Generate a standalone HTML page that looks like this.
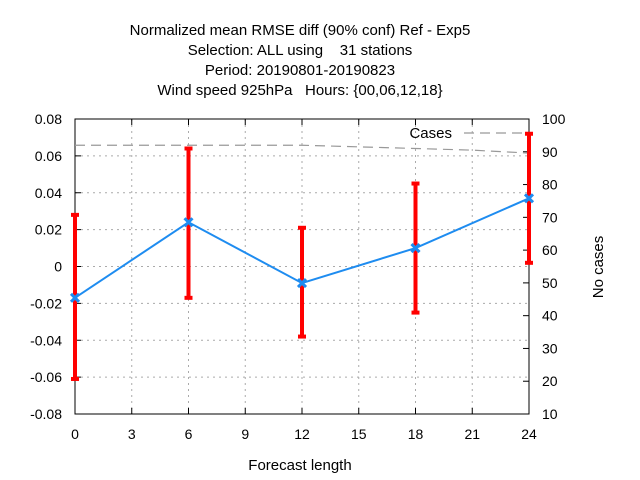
<!DOCTYPE html>
<html><head><meta charset="utf-8"><style>
body{margin:0;background:#fff}
svg{display:block;font-family:"Liberation Sans",sans-serif}
</style></head><body>
<svg id="c" width="640" height="480">
<g font-size="15" text-anchor="middle" fill="#000">
<text x="300" y="35">Normalized mean RMSE diff (90% conf) Ref - Exp5</text>
<text x="300" y="55" xml:space="preserve">Selection: ALL using    31 stations</text>
<text x="300" y="75">Period: 20190801-20190823</text>
<text x="300" y="95" xml:space="preserve">Wind speed 925hPa   Hours: {00,06,12,18}</text>
</g>
<g id="grid"></g>
<g id="axes"></g>
<g id="marks"></g>
<text x="300" y="470" font-size="15" text-anchor="middle">Forecast length</text>
<text transform="translate(603,267) rotate(-90)" font-size="15" text-anchor="middle">No cases</text>
<g>
<text x="452" y="138" font-size="15" text-anchor="end">Cases</text>
<line x1="464" y1="133" x2="526" y2="133" stroke="#999" stroke-width="1.2" stroke-dasharray="10,6"/>
</g>
</svg>
<script>
const hours=[0,6,12,18,24];
const meanDiff=[-0.017,0.024,-0.009,0.010,0.037];
const lowCI=[-0.061,-0.017,-0.038,-0.025,0.002];
const highCI=[0.028,0.064,0.021,0.045,0.072];
const caseHours=[0,6,12,15,18,21,24];
const cases=[92,92,92,91.5,91,90.5,89.6];
const yTicks=[-0.08,-0.06,-0.04,-0.02,0,0.02,0.04,0.06,0.08];
const y2Ticks=[10,20,30,40,50,60,70,80,90,100];
const xTicks=[0,3,6,9,12,15,18,21,24];
const L=75,R=529,T=119,B=414,NS="http://www.w3.org/2000/svg";
const X=v=>L+(v-0)/24*(R-L),Y=v=>B-(v+0.08)/0.16*(B-T),Y2=v=>B-(v-10)/90*(B-T);
function mk(p,t,a){const e=document.createElementNS(NS,t);for(const k in a)e.setAttribute(k,a[k]);document.getElementById(p).appendChild(e);return e;}
xTicks.forEach(v=>{const x=X(v);
 let g=mk('grid','line',{x1:x,x2:x,y1:T,y2:B,stroke:'#aaa','stroke-dasharray':'2,4'});
 
 mk('axes','line',{x1:x,x2:x,y1:B,y2:B-6,stroke:'#000'});mk('axes','line',{x1:x,x2:x,y1:T,y2:T+6,stroke:'#000'});
 let t=mk('axes','text',{x:x,y:B+25,'font-size':14,'text-anchor':'middle'});t.textContent=v;
 });
yTicks.forEach(v=>{const y=Y(v);
 let g=mk('grid','line',{x1:L,x2:R,y1:y,y2:y,stroke:'#aaa','stroke-dasharray':'2,4'});
 
 mk('axes','line',{x1:L,x2:L+6,y1:y,y2:y,stroke:'#000'});
 let t=mk('axes','text',{x:L-13,y:y+5,'font-size':14,'text-anchor':'end'});t.textContent=v===0?'0':v.toFixed(2);
 });
y2Ticks.forEach(v=>{const y=Y2(v);
 mk('axes','line',{x1:R-6,x2:R,y1:y,y2:y,stroke:'#000'});
 let t=mk('axes','text',{x:R+13,y:y+5,'font-size':14});t.textContent=v;
 });
let fr=mk('axes','rect',{x:L,y:T,width:R-L,height:B-T,fill:'none',stroke:'#000'});

let cl=mk('marks','polyline',{points:caseHours.map((h,i)=>X(h)+','+Y2(cases[i])).join(' '),fill:'none',stroke:'#999','stroke-width':1.2,'stroke-dasharray':'10,6'});

hours.forEach((h,i)=>{const x=X(h);
 let e=mk('marks','line',{x1:x,x2:x,y1:Y(lowCI[i]),y2:Y(highCI[i]),stroke:'#f00','stroke-width':4});
 
 mk('marks','line',{x1:x-4,x2:x+4,y1:Y(lowCI[i]),y2:Y(lowCI[i]),stroke:'#f00','stroke-width':4});
 mk('marks','line',{x1:x-4,x2:x+4,y1:Y(highCI[i]),y2:Y(highCI[i]),stroke:'#f00','stroke-width':4});});
let ml=mk('marks','polyline',{points:hours.map((h,i)=>X(h)+','+Y(meanDiff[i])).join(' '),fill:'none',stroke:'#1e8cf0','stroke-width':2});

hours.forEach((h,i)=>{const x=X(h),y=Y(meanDiff[i]);
 let p=mk('marks','path',{d:`M${x-4},${y-4}L${x+4},${y+4}M${x-4},${y+4}L${x+4},${y-4}`,stroke:'#1e8cf0','stroke-width':3});
 });
</script>
</body></html>
